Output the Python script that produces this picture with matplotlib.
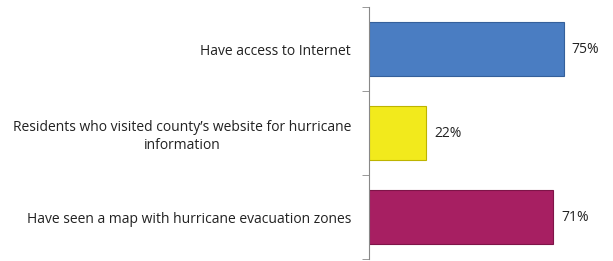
import numpy as np
import matplotlib.pyplot as plt

categories = ['Have access to Internet',
              'Residents who visited county\u2019s website for hurricane\ninformation',
              'Have seen a map with hurricane evacuation zones']
values = [75, 22, 71]
colors = ['#4A7DC2', '#F2EA1C', '#A71F62']
edges = ['#35609B', '#BDB400', '#7E1448']

plt.rcParams['font.family'] = ['Open Sans', 'DejaVu Sans']

fig = plt.figure(figsize=(6.13, 2.61), dpi=100)
ax = fig.add_axes([369/613, 2/261, 1 - 369/613, 252/261])

y = np.arange(len(categories))
ax.barh(y, values, height=0.64, color=colors, edgecolor=edges, linewidth=0.8)
for yi, v in zip(y, values):
    ax.text(v + 3, yi, f'{v}%', va='center', ha='left', fontsize=10, color='#222222')

ax.set_xlim(0, 94)
ax.set_ylim(2.5, -0.5)
ax.set_yticks(y)
ax.set_yticklabels(categories, fontsize=10, color='#222222')
for lbl in ax.get_yticklabels():
    lbl.set_multialignment('center')
    lbl.set_linespacing(1.3)
ax.tick_params(axis='y', length=0, pad=13)
ax.set_yticks([-0.5, 0.5, 1.5, 2.5], minor=True)
ax.tick_params(axis='y', which='minor', length=5, color='#888888', direction='out')
ax.set_xticks([])
for s in ['top', 'right', 'bottom']:
    ax.spines[s].set_visible(False)
ax.spines['left'].set_color('#888888')
ax.spines['left'].set_linewidth(0.8)

fig.savefig('out.png', dpi=100)
